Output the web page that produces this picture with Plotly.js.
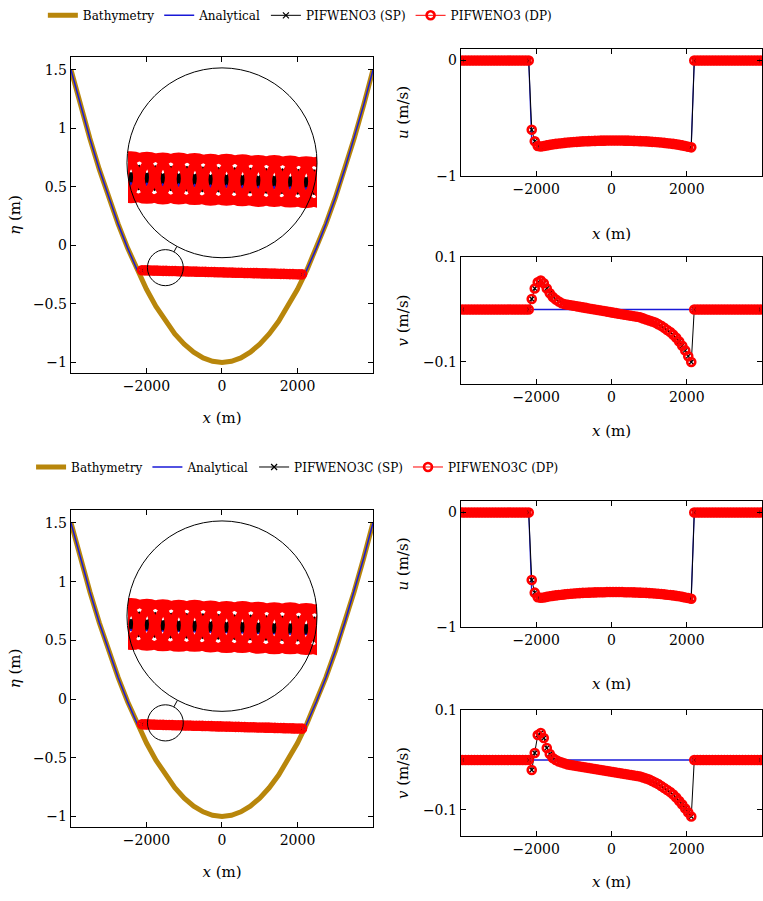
<!DOCTYPE html>
<html><head><meta charset="utf-8">
<script src="https://cdn.plot.ly/plotly-3.0.1.min.js"></script>
<style>html,body{margin:0;padding:0;background:#fff}#chart{width:763px;height:901px}</style>
</head><body><div id="chart"></div>
<script>
// ---------------- data ----------------
const xGrid = [-3960,-3880,-3800,-3720,-3640,-3560,-3480,-3400,-3320,-3240,
  -3160,-3080,-3000,-2920,-2840,-2760,-2680,-2600,-2520,-2440,
  -2360,-2280,-2200,-2120,-2040,-1960,-1880,-1800,-1720,-1640,
  -1560,-1480,-1400,-1320,-1240,-1160,-1080,-1000,-920,-840,
  -760,-680,-600,-520,-440,-360,-280,-200,-120,-40,
  40,120,200,280,360,440,520,600,680,760,
  840,920,1000,1080,1160,1240,1320,1400,1480,1560,
  1640,1720,1800,1880,1960,2040,2120,2200,2280,2360,
  2440,2520,2600,2680,2760,2840,2920,3000,3080,3160,
  3240,3320,3400,3480,3560,3640,3720,3800,3880,3960];
const xWet = xGrid.slice(23, 77);
const dryLeft = [0,0,0,0,0,0,0,0,0,0,0,0,0,0,0,0,0,0,0,0,0,0,0];
const dryRight = [0,0,0,0,0,0,0,0,0,0,0,0,0,0,0,0,0,0,0,0,0,0,0];

const xBathy = [-4000,-3750,-3500,-3250,-3000,-2750,-2500,-2250,-2000,-1750,-1500,-1250,-1000,-750,-500,-250,0,
  250,500,750,1000,1250,1500,1750,2000,2250,2500,2750,3000,3250,3500,3750,4000];
const bathy = [1.5,1.197,0.914,0.650,0.406,0.182,-0.023,-0.209,-0.375,-0.521,-0.648,-0.756,-0.844,-0.912,-0.961,-0.990,-1,
  -0.990,-0.961,-0.912,-0.844,-0.756,-0.648,-0.521,-0.375,-0.209,-0.023,0.182,0.406,0.650,0.914,1.197,1.5];

const xEtaExact = [-4000,-3750,-3500,-3250,-3000,-2750,-2500,-2235,2186,2250,2500,2750,3000,3250,3500,3750,4000];
const etaExact = [1.5,1.197,0.914,0.650,0.406,0.182,-0.023,-0.219,-0.253,-0.209,-0.023,0.182,0.406,0.650,0.914,1.197,1.5];

const xUExact = [-4000,-2200,-2120,2120,2200,4000];
const uExact = [0,0,-0.72,-0.72,0,0];
const xVExact = [-4000,4000];
const vExact = [0,0];

// PIFWENO3 (top)
const etaWENO3 = [-0.212,-0.213,-0.213,-0.214,-0.215,-0.215,-0.216,-0.217,-0.217,-0.218,
  -0.219,-0.219,-0.220,-0.221,-0.221,-0.222,-0.223,-0.223,-0.224,-0.225,
  -0.225,-0.226,-0.227,-0.227,-0.228,-0.229,-0.229,-0.230,-0.231,-0.231,
  -0.232,-0.233,-0.233,-0.234,-0.235,-0.235,-0.236,-0.237,-0.237,-0.238,
  -0.239,-0.239,-0.240,-0.241,-0.241,-0.242,-0.243,-0.243,-0.244,-0.245,
  -0.245,-0.246,-0.247,-0.247];
const uWENO3Wet = [-0.60,-0.70,-0.74,-0.745,-0.74,-0.735,-0.73,-0.726,-0.722,-0.719,
  -0.716,-0.713,-0.71,-0.708,-0.706,-0.704,-0.702,-0.70,-0.699,-0.698,
  -0.697,-0.696,-0.695,-0.694,-0.694,-0.693,-0.693,-0.693,-0.693,-0.693,
  -0.693,-0.694,-0.694,-0.695,-0.696,-0.697,-0.698,-0.699,-0.70,-0.702,
  -0.704,-0.706,-0.708,-0.71,-0.713,-0.716,-0.719,-0.722,-0.726,-0.73,
  -0.735,-0.74,-0.746,-0.752];
const vWENO3Wet = [0.020,0.040,0.052,0.055,0.050,0.040,0.031,0.024,0.019,0.015,
  0.012,0.010,0.009,0.008,0.007,0.006,0.005,0.004,0.003,0.002,
  0.001,0.000,-0.001,-0.002,-0.003,-0.004,-0.005,-0.006,-0.007,-0.008,
  -0.009,-0.010,-0.011,-0.012,-0.013,-0.014,-0.015,-0.017,-0.019,-0.021,
  -0.023,-0.025,-0.028,-0.031,-0.035,-0.039,-0.043,-0.048,-0.054,-0.061,
  -0.069,-0.078,-0.089,-0.100];
// PIFWENO3C (bottom)
const etaWENO3C = [-0.215,-0.216,-0.216,-0.217,-0.218,-0.219,-0.219,-0.220,-0.221,-0.221,
  -0.222,-0.223,-0.223,-0.224,-0.225,-0.226,-0.226,-0.227,-0.228,-0.228,
  -0.229,-0.230,-0.230,-0.231,-0.232,-0.233,-0.233,-0.234,-0.235,-0.235,
  -0.236,-0.237,-0.237,-0.238,-0.239,-0.240,-0.240,-0.241,-0.242,-0.242,
  -0.243,-0.244,-0.244,-0.245,-0.246,-0.247,-0.247,-0.248,-0.249,-0.249,
  -0.250,-0.251,-0.251,-0.252];
const uWENO3CWet = [-0.59,-0.70,-0.74,-0.745,-0.742,-0.737,-0.732,-0.728,-0.724,-0.721,
  -0.718,-0.715,-0.712,-0.710,-0.708,-0.706,-0.704,-0.702,-0.701,-0.700,
  -0.699,-0.698,-0.697,-0.696,-0.696,-0.695,-0.695,-0.695,-0.695,-0.695,
  -0.695,-0.696,-0.696,-0.697,-0.698,-0.699,-0.700,-0.701,-0.702,-0.704,
  -0.706,-0.708,-0.710,-0.712,-0.715,-0.718,-0.721,-0.724,-0.728,-0.732,
  -0.737,-0.742,-0.747,-0.753];
const vWENO3CWet = [-0.020,0.014,0.050,0.054,0.044,0.024,0.012,0.004,0.000,-0.003,
  -0.005,-0.007,-0.009,-0.010,-0.011,-0.012,-0.013,-0.014,-0.015,-0.016,
  -0.017,-0.018,-0.019,-0.020,-0.021,-0.022,-0.023,-0.024,-0.025,-0.026,
  -0.027,-0.028,-0.029,-0.030,-0.031,-0.032,-0.033,-0.035,-0.037,-0.039,
  -0.042,-0.045,-0.048,-0.052,-0.056,-0.060,-0.064,-0.069,-0.075,-0.082,
  -0.089,-0.097,-0.105,-0.113];

const etaTicks = [-1,-0.5,0,0.5,1,1.5];
const xTicks = [-2000,0,2000];
const uTicks = [-1,0];
const vTicks = [-0.1,0.1];
const legendNames = {top:['Bathymetry','Analytical','PIFWENO3 (SP)','PIFWENO3 (DP)'],
                     bot:['Bathymetry','Analytical','PIFWENO3C (SP)','PIFWENO3C (DP)']};

// ---------------- style ----------------
const F = 'DejaVu Serif';
const GOLD = '#B8860B', BLUE = 'rgb(25,25,215)', RED = '#ff0000';
const MAG = 5.27; // spy magnification
const SPM = {symbol:'x-thin',size:6,line:{color:'#000',width:1.2}};
const DPM = {symbol:'circle-open',size:8,color:RED,line:{color:RED,width:2.6}};

function full(wet){ return dryLeft.concat(wet, dryRight); }

function scheme(names, eta, uWet, vWet, axs, legendId){
  const [xe,ye,xu,yu,xv,yv,xi,yi] = axs;
  const u = full(uWet), v = full(vWet);
  const T = [];
  // eta panel
  T.push({x:xBathy,y:bathy,xaxis:xe,yaxis:ye,mode:'lines',name:names[0],legend:legendId,
    line:{color:GOLD,width:5}});
  T.push({x:xEtaExact,y:etaExact,xaxis:xe,yaxis:ye,mode:'lines',name:names[1],legend:legendId,
    line:{color:BLUE,width:1.5}});
  T.push({x:xWet,y:eta,xaxis:xe,yaxis:ye,mode:'lines+markers',name:names[2],legend:legendId,
    line:{color:'#000',width:1},marker:SPM});
  T.push({x:xWet,y:eta,xaxis:xe,yaxis:ye,mode:'lines+markers',name:names[3],legend:legendId,
    line:{color:RED,width:1},marker:DPM});
  // u panel
  T.push({x:xUExact,y:uExact,xaxis:xu,yaxis:yu,mode:'lines',showlegend:false,line:{color:BLUE,width:1.2}});
  T.push({x:xGrid,y:u,xaxis:xu,yaxis:yu,mode:'lines+markers',showlegend:false,
    line:{color:'#000',width:1},marker:SPM});
  T.push({x:xGrid,y:u,xaxis:xu,yaxis:yu,mode:'markers',showlegend:false,marker:DPM});
  // v panel
  T.push({x:xVExact,y:vExact,xaxis:xv,yaxis:yv,mode:'lines',showlegend:false,line:{color:BLUE,width:1.5}});
  T.push({x:xGrid,y:v,xaxis:xv,yaxis:yv,mode:'lines+markers',showlegend:false,
    line:{color:'#000',width:1},marker:SPM});
  T.push({x:xGrid,y:v,xaxis:xv,yaxis:yv,mode:'markers',showlegend:false,marker:DPM});
  // magnified (spy) view
  T.push({x:xEtaExact,y:etaExact,xaxis:xi,yaxis:yi,mode:'lines',showlegend:false,
    line:{color:BLUE,width:1.5*MAG}});
  T.push({x:xWet,y:eta,xaxis:xi,yaxis:yi,mode:'markers',showlegend:false,
    marker:{symbol:'x-thin',size:4*MAG,line:{color:'#000',width:1.2*MAG}}});
  T.push({x:xWet,y:eta,xaxis:xi,yaxis:yi,mode:'markers',showlegend:false,
    marker:{symbol:'circle-open',size:44,color:RED,line:{color:RED,width:8}}});
  return T;
}

const data = [].concat(
  scheme(legendNames.top, etaWENO3, uWENO3Wet, vWENO3Wet, ['x','y','x2','y2','x3','y3','x7','y7'], 'legend'),
  scheme(legendNames.bot, etaWENO3C, uWENO3CWet, vWENO3CWet, ['x4','y4','x5','y5','x6','y6','x8','y8'], 'legend2')
);

function ax(o){
  return Object.assign({showline:true,linecolor:'#000',linewidth:1.3,mirror:'allticks',ticks:'inside',
    ticklen:5,tickwidth:1,tickcolor:'#000',showgrid:false,zeroline:false,automargin:false,fixedrange:true,
    tickfont:{family:F,size:14,color:'#000'}}, o);
}
function xt(standoff){ return {text:'<i>x</i> (m)',font:{family:F,size:15,color:'#000'},standoff:standoff}; }
function yt(t,standoff){ return {text:t,font:{family:F,size:15,color:'#000'},standoff:standoff}; }
function hid(o){ return Object.assign({visible:false,fixedrange:true,showgrid:false,zeroline:false}, o); }

const dxA=[0.09305,0.48886], dxB=[0.60419,0.99869];
const layout = {
  width:763, height:901, margin:{l:0,r:0,t:0,b:0},
  paper_bgcolor:'#fff', plot_bgcolor:'rgba(0,0,0,0)', showlegend:true,
  font:{family:F,color:'#000'},
  xaxis: ax({domain:dxA,range:[-4000,4000],tickvals:xTicks,anchor:'y',title:xt(19)}),
  yaxis: ax({domain:[0.58602,0.93674],range:[-1.09,1.61],tickvals:etaTicks,anchor:'x',title:yt('<i>η</i> (m)',8)}),
  xaxis2: ax({domain:dxB,range:[-4000,4000],tickvals:xTicks,anchor:'y2',title:xt(32)}),
  yaxis2: ax({domain:[0.80466,0.94562],range:[-1,0.1],tickvals:uTicks,anchor:'x2',title:yt('<i>u</i> (m/s)',24)}),
  xaxis3: ax({domain:dxB,range:[-4000,4000],tickvals:xTicks,anchor:'y3',title:xt(21)}),
  yaxis3: ax({domain:[0.57381,0.71476],range:[-0.142,0.1],tickvals:vTicks,anchor:'x3',title:yt('<i>v</i> (m/s)',10)}),
  xaxis4: ax({domain:dxA,range:[-4000,4000],tickvals:xTicks,anchor:'y4',title:xt(19)}),
  yaxis4: ax({domain:[0.08213,0.43396],range:[-1.09,1.61],tickvals:etaTicks,anchor:'x4',title:yt('<i>η</i> (m)',8)}),
  xaxis5: ax({domain:dxB,range:[-4000,4000],tickvals:xTicks,anchor:'y5',title:xt(31)}),
  yaxis5: ax({domain:[0.30411,0.44395],range:[-1,0.1],tickvals:uTicks,anchor:'x5',title:yt('<i>u</i> (m/s)',24)}),
  xaxis6: ax({domain:dxB,range:[-4000,4000],tickvals:xTicks,anchor:'y6',title:xt(20)}),
  yaxis6: ax({domain:[0.07214,0.21199],range:[-0.152,0.1],tickvals:vTicks,anchor:'x6',title:yt('<i>v</i> (m/s)',10)}),
  xaxis7: hid({domain:[0.16776,0.41547],range:[-1975,-1025],anchor:'y7'}),
  yaxis7: hid({domain:[0.71365,0.92453],range:[-0.344,-0.036],anchor:'x7'}),
  xaxis8: hid({domain:[0.16776,0.41547],range:[-1975,-1025],anchor:'y8'}),
  yaxis8: hid({domain:[0.21088,0.42175],range:[-0.357,-0.049],anchor:'x8'}),
  legend: {orientation:'h',x:0.393,xanchor:'center',y:0.983,yanchor:'middle',bgcolor:'rgba(0,0,0,0)',
    font:{family:F,size:12,color:'#000'},itemclick:false,itemdoubleclick:false,tracegroupgap:0},
  legend2: {orientation:'h',x:0.39,xanchor:'center',y:0.4817,yanchor:'middle',bgcolor:'rgba(0,0,0,0)',
    font:{family:F,size:12,color:'#000'},itemclick:false,itemdoubleclick:false,tracegroupgap:0},
  shapes: [
    {type:'circle',xref:'x',yref:'y',x0:-1975,x1:-1025,y0:-0.344,y1:-0.036,line:{color:'#000',width:1}},
    {type:'circle',xref:'x',yref:'y',x0:-2517,x1:2517,y0:-0.105,y1:1.517,line:{color:'#000',width:1}},
    {type:'line',xref:'x',yref:'y',x0:-1274,y0:-0.0555,x1:-1195,y1:-0.0085,line:{color:'#000',width:1}},
    {type:'circle',xref:'x4',yref:'y4',x0:-1975,x1:-1025,y0:-0.357,y1:-0.049,line:{color:'#000',width:1}},
    {type:'circle',xref:'x4',yref:'y4',x0:-2517,x1:2517,y0:-0.105,y1:1.517,line:{color:'#000',width:1}},
    {type:'line',xref:'x4',yref:'y4',x0:-1275,y0:-0.067,x1:-1181,y1:-0.011,line:{color:'#000',width:1}}
  ]
};
Plotly.newPlot('chart', data, layout, {staticPlot:true, displayModeBar:false});
</script></body></html>
